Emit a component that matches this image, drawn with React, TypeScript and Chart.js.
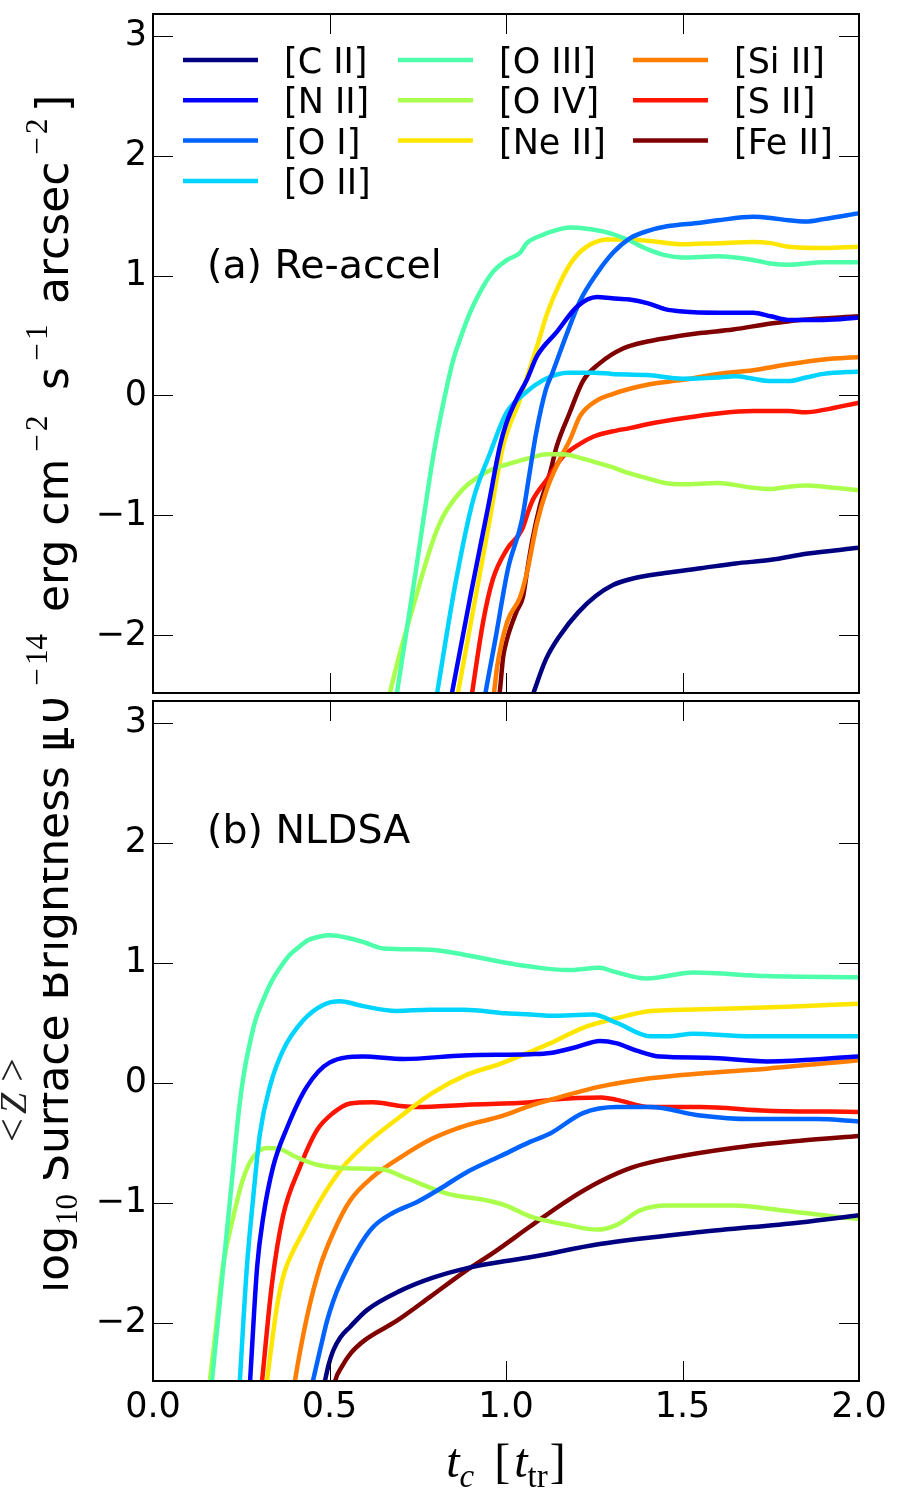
import { useEffect, useRef } from "react";
import { Chart, registerables } from "chart.js";

Chart.register(...registerables);

const SANS = "'DejaVu Sans', 'Noto Sans', sans-serif";
const SERIF = "'Liberation Serif', 'DejaVu Serif', serif";

// Emission lines, in jet-colormap order
const lineNames = ["[C II]", "[N II]", "[O I]", "[O II]", "[O III]", "[O IV]", "[Ne II]", "[Si II]", "[S II]", "[Fe II]"];
const lineColors = ["#000080", "#0000ff", "#0063ff", "#00d4ff", "#4dffaa", "#aaff4d", "#ffe600", "#ff7d00", "#ff1400", "#800000"];

const xTickValues = [0, 0.5, 1.0, 1.5, 2.0];
const xTickLabels = ["0.0", "0.5", "1.0", "1.5", "2.0"];
const yTickValues = [-2, -1, 0, 1, 2, 3];
const yTickLabels = ["\u22122", "\u22121", "0", "1", "2", "3"];
const panelTitles = ["(a) Re-accel", "(b) NLDSA"];

// Panel (a) Re-accel: [t_c, log10 surface brightness]
const reCII = [[1.064, -2.59], [1.074, -2.51], [1.113, -2.2], [1.153, -2.0], [1.204, -1.81], [1.255, -1.67], [1.303, -1.58], [1.354, -1.53], [1.45, -1.48], [1.552, -1.44], [1.65, -1.4], [1.751, -1.37], [1.85, -1.32], [2.0, -1.27]];
const reNII = [[0.84, -2.59], [0.847, -2.48], [0.9, -1.66], [0.95, -0.92], [0.983, -0.42], [1.0, -0.24], [1.03, -0.03], [1.059, 0.13], [1.088, 0.33], [1.144, 0.53], [1.201, 0.74], [1.258, 0.82], [1.3, 0.81], [1.35, 0.8], [1.4, 0.77], [1.45, 0.72], [1.5, 0.7], [1.6, 0.69], [1.7, 0.69], [1.75, 0.66], [1.8, 0.63], [1.9, 0.63], [2.0, 0.65]];
const reOI = [[0.935, -2.6], [0.94, -2.51], [0.97, -2.03], [1.006, -1.44], [1.045, -1.04], [1.065, -0.68], [1.085, -0.32], [1.113, 0.05], [1.133, 0.2], [1.173, 0.52], [1.21, 0.79], [1.258, 1.02], [1.303, 1.19], [1.351, 1.31], [1.4, 1.37], [1.456, 1.41], [1.55, 1.44], [1.6, 1.46], [1.7, 1.49], [1.75, 1.48], [1.8, 1.46], [1.85, 1.45], [1.9, 1.47], [2.0, 1.52]];
const reOII = [[0.8, -2.57], [0.805, -2.48], [0.856, -1.58], [0.907, -0.87], [0.955, -0.48], [1.0, -0.15], [1.054, 0.02], [1.113, 0.14], [1.176, 0.19], [1.25, 0.19], [1.3, 0.18], [1.4, 0.17], [1.5, 0.14], [1.6, 0.15], [1.65, 0.16], [1.7, 0.14], [1.75, 0.12], [1.8, 0.12], [1.85, 0.15], [1.9, 0.18], [2.0, 0.2]];
const reOIII = [[0.686, -2.58], [0.691, -2.48], [0.74, -1.55], [0.793, -0.52], [0.813, -0.2], [0.833, 0.08], [0.85, 0.29], [0.87, 0.47], [0.898, 0.69], [0.926, 0.86], [0.963, 1.03], [1.003, 1.13], [1.04, 1.19], [1.059, 1.27], [1.096, 1.33], [1.133, 1.37], [1.181, 1.4], [1.229, 1.39], [1.286, 1.36], [1.343, 1.3], [1.4, 1.22], [1.45, 1.17], [1.5, 1.15], [1.6, 1.16], [1.7, 1.13], [1.75, 1.1], [1.8, 1.09], [1.9, 1.11], [2.0, 1.11]];
const reOIV = [[0.665, -2.56], [0.671, -2.48], [0.7, -2.14], [0.737, -1.76], [0.785, -1.28], [0.81, -1.08], [0.833, -0.95], [0.878, -0.78], [0.926, -0.67], [0.975, -0.6], [1.02, -0.56], [1.068, -0.52], [1.116, -0.49], [1.161, -0.49], [1.21, -0.52], [1.258, -0.56], [1.303, -0.6], [1.351, -0.65], [1.4, -0.69], [1.45, -0.73], [1.5, -0.74], [1.6, -0.73], [1.7, -0.77], [1.75, -0.78], [1.8, -0.76], [1.85, -0.75], [1.9, -0.76], [2.0, -0.79]];
const reNeII = [[0.858, -2.58], [0.864, -2.48], [0.91, -1.74], [0.95, -1.1], [0.992, -0.42], [1.04, -0.03], [1.059, 0.15], [1.088, 0.41], [1.116, 0.68], [1.153, 0.94], [1.19, 1.13], [1.229, 1.24], [1.286, 1.3], [1.35, 1.3], [1.4, 1.29], [1.5, 1.26], [1.6, 1.27], [1.7, 1.28], [1.75, 1.27], [1.8, 1.24], [1.9, 1.23], [2.0, 1.24]];
const reSiII = [[0.962, -2.57], [0.966, -2.48], [0.975, -2.26], [1.003, -1.89], [1.04, -1.68], [1.059, -1.48], [1.088, -1.06], [1.116, -0.78], [1.153, -0.53], [1.181, -0.37], [1.21, -0.17], [1.258, -0.04], [1.3, 0.01], [1.343, 0.05], [1.4, 0.09], [1.5, 0.13], [1.6, 0.18], [1.7, 0.21], [1.8, 0.26], [1.9, 0.3], [2.0, 0.32]];
const reSII = [[0.9, -2.56], [0.904, -2.48], [0.935, -1.89], [0.963, -1.53], [1.003, -1.28], [1.045, -1.12], [1.065, -0.95], [1.076, -0.87], [1.116, -0.7], [1.161, -0.51], [1.2, -0.42], [1.25, -0.34], [1.3, -0.3], [1.354, -0.27], [1.4, -0.24], [1.5, -0.19], [1.6, -0.15], [1.7, -0.13], [1.8, -0.13], [1.85, -0.14], [1.9, -0.12], [2.0, -0.06]];
const reFeII = [[0.977, -2.58], [0.982, -2.48], [0.992, -2.18], [1.003, -2.03], [1.03, -1.8], [1.048, -1.68], [1.06, -1.46], [1.075, -1.2], [1.096, -0.92], [1.125, -0.64], [1.144, -0.42], [1.181, -0.14], [1.218, 0.12], [1.266, 0.27], [1.33, 0.39], [1.4, 0.45], [1.456, 0.48], [1.55, 0.52], [1.643, 0.55], [1.75, 0.6], [1.833, 0.63], [2.0, 0.66]];

// Panel (b) NLDSA: [t_c, log10 surface brightness]
const nlCII = [[0.478, -2.6], [0.487, -2.48], [0.498, -2.34], [0.51, -2.23], [0.53, -2.12], [0.558, -2.03], [0.606, -1.89], [0.7, -1.73], [0.793, -1.62], [0.89, -1.54], [0.983, -1.49], [1.068, -1.45], [1.266, -1.34], [1.55, -1.24], [1.833, -1.16], [2.0, -1.1]];
const nlNII = [[0.272, -2.62], [0.275, -2.48], [0.295, -1.53], [0.312, -1.12], [0.34, -0.7], [0.38, -0.37], [0.436, -0.03], [0.5, 0.17], [0.595, 0.22], [0.71, 0.2], [0.88, 0.23], [1.07, 0.24], [1.125, 0.25], [1.2, 0.3], [1.266, 0.35], [1.314, 0.33], [1.37, 0.27], [1.436, 0.22], [1.57, 0.21], [1.74, 0.18], [2.0, 0.22]];
const nlOI = [[0.447, -2.56], [0.453, -2.48], [0.475, -2.2], [0.493, -1.98], [0.51, -1.82], [0.53, -1.67], [0.578, -1.39], [0.623, -1.2], [0.68, -1.08], [0.748, -0.99], [0.813, -0.88], [0.89, -0.74], [0.983, -0.61], [1.068, -0.49], [1.125, -0.42], [1.218, -0.25], [1.314, -0.2], [1.408, -0.2], [1.55, -0.27], [1.691, -0.3], [1.881, -0.3], [2.0, -0.32]];
const nlOII = [[0.243, -2.62], [0.246, -2.48], [0.266, -1.53], [0.283, -0.98], [0.303, -0.42], [0.331, -0.03], [0.368, 0.27], [0.425, 0.52], [0.482, 0.65], [0.53, 0.68], [0.595, 0.64], [0.69, 0.6], [0.785, 0.61], [0.88, 0.61], [1.0, 0.58], [1.07, 0.57], [1.125, 0.56], [1.246, 0.57], [1.314, 0.5], [1.408, 0.39], [1.46, 0.39], [1.53, 0.41], [1.69, 0.39], [2.0, 0.39]];
const nlOIII = [[0.162, -2.63], [0.167, -2.48], [0.19, -1.8], [0.218, -0.98], [0.246, -0.16], [0.26, 0.12], [0.275, 0.34], [0.29, 0.52], [0.312, 0.69], [0.335, 0.84], [0.36, 0.96], [0.385, 1.06], [0.408, 1.12], [0.44, 1.19], [0.473, 1.22], [0.5, 1.23], [0.55, 1.21], [0.6, 1.17], [0.652, 1.12], [0.785, 1.11], [0.878, 1.07], [0.983, 1.01], [1.068, 0.97], [1.173, 0.94], [1.266, 0.96], [1.303, 0.93], [1.399, 0.87], [1.53, 0.92], [1.739, 0.89], [2.0, 0.88]];
const nlOIV = [[0.157, -2.58], [0.161, -2.48], [0.18, -2.0], [0.198, -1.53], [0.227, -1.12], [0.255, -0.8], [0.283, -0.62], [0.323, -0.54], [0.36, -0.55], [0.408, -0.62], [0.465, -0.68], [0.55, -0.71], [0.652, -0.72], [0.708, -0.78], [0.833, -0.92], [0.95, -0.98], [1.0, -1.02], [1.068, -1.11], [1.173, -1.18], [1.258, -1.22], [1.314, -1.18], [1.38, -1.06], [1.456, -1.02], [1.643, -1.02], [1.785, -1.06], [1.926, -1.11], [2.0, -1.13]];
const nlNeII = [[0.318, -2.62], [0.323, -2.48], [0.335, -2.2], [0.348, -1.92], [0.36, -1.72], [0.375, -1.55], [0.395, -1.41], [0.416, -1.29], [0.473, -0.98], [0.538, -0.7], [0.606, -0.5], [0.7, -0.28], [0.793, -0.08], [0.89, 0.07], [0.983, 0.16], [1.068, 0.26], [1.125, 0.33], [1.218, 0.46], [1.314, 0.54], [1.408, 0.6], [1.5, 0.61], [1.643, 0.62], [1.833, 0.64], [2.0, 0.66]];
const nlSiII = [[0.398, -2.56], [0.402, -2.48], [0.436, -1.95], [0.473, -1.53], [0.51, -1.25], [0.558, -0.98], [0.623, -0.78], [0.7, -0.62], [0.793, -0.46], [0.89, -0.35], [0.983, -0.28], [1.068, -0.19], [1.125, -0.14], [1.266, -0.03], [1.408, 0.04], [1.55, 0.08], [1.739, 0.12], [2.0, 0.19]];
const nlSII = [[0.306, -2.57], [0.309, -2.48], [0.337, -1.67], [0.368, -1.11], [0.416, -0.7], [0.465, -0.39], [0.51, -0.25], [0.558, -0.17], [0.623, -0.16], [0.7, -0.19], [0.75, -0.2], [0.89, -0.18], [1.07, -0.16], [1.125, -0.14], [1.27, -0.12], [1.314, -0.14], [1.41, -0.2], [1.55, -0.2], [1.74, -0.23], [2.0, -0.24]];
const nlFeII = [[0.508, -2.62], [0.516, -2.48], [0.535, -2.36], [0.56, -2.25], [0.6, -2.14], [0.69, -1.98], [0.785, -1.78], [0.878, -1.58], [0.975, -1.39], [1.07, -1.19], [1.173, -0.98], [1.266, -0.82], [1.36, -0.7], [1.456, -0.63], [1.643, -0.54], [1.833, -0.48], [2.0, -0.44]];

const reaccelSeries = [reCII, reNII, reOI, reOII, reOIII, reOIV, reNeII, reSiII, reSII, reFeII];
const nldsaSeries = [nlCII, nlNII, nlOI, nlOII, nlOIII, nlOIV, nlNeII, nlSiII, nlSII, nlFeII];

const X_RANGE = [0, 2];
const Y_RANGE = [-2.48, 3.18];

const W = 897;
const H = 1488;

function makeDatasets(series: number[][][]) {
  return series.map((pts, i) => ({
    label: lineNames[i],
    data: pts.map(([x, y]) => ({ x, y })),
    borderColor: lineColors[i],
    backgroundColor: lineColors[i],
    borderWidth: 4.5,
    pointRadius: 0,
    fill: false,
    cubicInterpolationMode: "monotone" as const,
    clip: 0,
    borderJoinStyle: "round" as const,
  }));
}

function drawFrame(chart: any) {
  const { ctx, chartArea: a, scales } = chart;
  ctx.save();
  ctx.strokeStyle = "#000";
  ctx.lineWidth = 1;
  ctx.beginPath();
  xTickValues.forEach((v) => {
    const px = Math.round(scales.x.getPixelForValue(v)) + 0.5;
    ctx.moveTo(px, a.bottom);
    ctx.lineTo(px, a.bottom - 20);
    ctx.moveTo(px, a.top);
    ctx.lineTo(px, a.top + 20);
  });
  yTickValues.forEach((v) => {
    const py = Math.round(scales.y.getPixelForValue(v)) + 0.5;
    ctx.moveTo(a.left, py);
    ctx.lineTo(a.left + 20, py);
    ctx.moveTo(a.right, py);
    ctx.lineTo(a.right - 20, py);
  });
  ctx.stroke();
  ctx.lineWidth = 2;
  ctx.strokeRect(a.left, a.top, a.right - a.left, a.bottom - a.top);
  ctx.restore();
}

function drawLegend(ctx: CanvasRenderingContext2D) {
  const columns = [[0, 1, 2, 3], [4, 5, 6], [7, 8, 9]];
  const colX = [183, 398, 633];
  ctx.save();
  ctx.font = `35px ${SANS}`;
  ctx.fillStyle = "#000";
  ctx.textBaseline = "alphabetic";
  columns.forEach((col, c) => {
    col.forEach((idx, r) => {
      const y = 60 + r * 40.3;
      ctx.strokeStyle = lineColors[idx];
      ctx.lineWidth = 4.5;
      ctx.beginPath();
      ctx.moveTo(colX[c], y);
      ctx.lineTo(colX[c] + 75, y);
      ctx.stroke();
      ctx.fillText(lineNames[idx], colX[c] + 101, y + 13);
    });
  });
  ctx.restore();
}

// Math-style script text: the minus sign gets a wide advance like TeX's.
function drawScript(ctx: CanvasRenderingContext2D, text: string, x: number, y: number, size: number) {
  ctx.font = `${size}px ${SERIF}`;
  let cx = x;
  for (const ch of text) {
    const w = ctx.measureText(ch).width;
    if (ch === "\u2212") {
      const adv = 0.778 * size;
      ctx.fillText(ch, cx + (adv - w) / 2, y);
      cx += adv;
    } else {
      ctx.fillText(ch, cx, y);
      cx += w;
    }
  }
}

function drawYTitle(ctx: CanvasRenderingContext2D) {
  const big = `44px ${SANS}`;
  // [text, kind, screen y where the piece starts (reading upwards), baseline shift]
  const parts: [string, "main" | "script", number, number][] = [
    ["log", "main", 1293, 0],
    ["10", "script", 1225, 9],
    ["Surface Brightness [", "main", 1182, 0],
    ["10", "main", 752, 0],
    ["\u221214", "script", 689, -21],
    ["erg cm", "main", 612, 0],
    ["\u22122", "script", 455, -21],
    ["s", "main", 390, 0],
    ["\u22121", "script", 364, -21],
    ["arcsec", "main", 304, 0],
    ["\u22122", "script", 158, -21],
    ["]", "main", 112, 0],
  ];
  ctx.save();
  ctx.beginPath();
  ctx.rect(0, 0, W, 695);
  ctx.rect(43, 695, W - 43, H - 695);
  ctx.clip();
  ctx.translate(68, 0);
  ctx.rotate(-Math.PI / 2);
  ctx.fillStyle = "#000";
  ctx.textBaseline = "alphabetic";
  ctx.textAlign = "left";
  parts.forEach(([t, kind, start, dy]) => {
    if (kind === "main") {
      ctx.font = big;
      ctx.fillText(t, -start, dy);
    } else {
      drawScript(ctx, t, -start, dy, 31);
    }
  });
  ctx.restore();

  // <Z> tag beside the lower panel
  ctx.save();
  ctx.translate(26, 0);
  ctx.rotate(-Math.PI / 2);
  ctx.fillStyle = "#222";
  ctx.textBaseline = "alphabetic";
  ctx.font = `42px ${SERIF}`;
  ctx.fillText("<", -1142, 0);
  ctx.font = `italic 38px ${SERIF}`;
  ctx.fillText("Z", -1114, 0);
  ctx.font = `42px ${SERIF}`;
  ctx.fillText(">", -1082, 0);
  ctx.restore();
}

function drawXTitle(ctx: CanvasRenderingContext2D, centerX: number) {
  const parts: [string, string, number, number][] = [
    ["t", `italic 48px ${SERIF}`, 0, 0],
    ["c", `italic 33px ${SERIF}`, 10, 20],
    ["[", `48px ${SERIF}`, 0, 4],
    ["t", `italic 48px ${SERIF}`, 0, 0],
    ["tr", `33px ${SERIF}`, 10, 2],
    ["]", `48px ${SERIF}`, 0, 0],
  ];
  let total = 0;
  const widths = parts.map(([t, f, , after]) => {
    ctx.font = f;
    const w = ctx.measureText(t).width;
    total += w + after;
    return w;
  });
  ctx.save();
  ctx.fillStyle = "#000";
  ctx.textBaseline = "alphabetic";
  let x = centerX - total / 2;
  parts.forEach(([t, f, dy, after], i) => {
    ctx.font = f;
    ctx.fillText(t, x, 1477 + dy);
    x += widths[i] + after;
  });
  ctx.restore();
}

function makeConfig(series: number[][][], panel: 0 | 1): any {
  const isTop = panel === 0;
  const decor = {
    id: "panelDecor" + panel,
    afterDraw(chart: any) {
      const { ctx, chartArea: a } = chart;
      drawFrame(chart);
      ctx.save();
      ctx.fillStyle = "#000";
      ctx.font = `39.5px ${SANS}`;
      ctx.textBaseline = "alphabetic";
      ctx.fillText(panelTitles[panel], 207, isTop ? 278 : 843);
      ctx.restore();
      if (isTop) {
        drawLegend(ctx);
        drawYTitle(ctx);
      } else {
        drawXTitle(ctx, (a.left + a.right) / 2);
      }
    },
  };
  return {
    type: "line",
    data: { datasets: makeDatasets(series) },
    options: {
      animation: false,
      responsive: false,
      events: [],
      layout: {
        padding: isTop
          ? { left: 0, right: 38, top: 14, bottom: H - 693 }
          : { left: 0, right: 38, top: 701, bottom: 0 },
      },
      plugins: { legend: { display: false }, tooltip: { enabled: false } },
      scales: {
        x: {
          type: "linear",
          min: X_RANGE[0],
          max: X_RANGE[1],
          display: !isTop,
          grid: { display: false, drawTicks: false },
          border: { display: false },
          afterBuildTicks: (s: any) => {
            s.ticks = xTickValues.map((v) => ({ value: v }));
          },
          afterFit: (s: any) => {
            s.height = isTop ? 0 : H - 1381;
            s.paddingLeft = 0;
            s.paddingRight = 0;
          },
          ticks: {
            padding: 6,
            color: "#000",
            autoSkip: false,
            maxRotation: 0,
            font: { family: SANS, size: 35 },
            callback: (v: number) => xTickLabels[xTickValues.indexOf(v)],
          },
        },
        y: {
          type: "linear",
          min: Y_RANGE[0],
          max: Y_RANGE[1],
          grid: { display: false, drawTicks: false },
          border: { display: false },
          afterBuildTicks: (s: any) => {
            s.ticks = yTickValues.map((v) => ({ value: v }));
          },
          afterFit: (s: any) => {
            s.width = 153;
            s.paddingTop = 0;
            s.paddingBottom = 0;
          },
          ticks: {
            padding: 6,
            color: "#000",
            autoSkip: false,
            font: { family: SANS, size: 35 },
            callback: (v: number) => yTickLabels[yTickValues.indexOf(v)],
          },
        },
      },
    },
    plugins: [decor],
  };
}

export default function App() {
  const refA = useRef<HTMLCanvasElement>(null);
  const refB = useRef<HTMLCanvasElement>(null);

  useEffect(() => {
    const top = new Chart(refA.current as HTMLCanvasElement, makeConfig(reaccelSeries, 0));
    const bottom = new Chart(refB.current as HTMLCanvasElement, makeConfig(nldsaSeries, 1));
    return () => {
      top.destroy();
      bottom.destroy();
    };
  }, []);

  const canvasStyle: React.CSSProperties = { position: "absolute", left: 0, top: 0, width: W, height: H };
  return (
    <div style={{ position: "absolute", left: 0, top: 0, width: W, height: H, background: "#fff", overflow: "hidden" }}>
      <canvas ref={refA} width={W} height={H} style={canvasStyle} />
      <canvas ref={refB} width={W} height={H} style={canvasStyle} />
    </div>
  );
}
